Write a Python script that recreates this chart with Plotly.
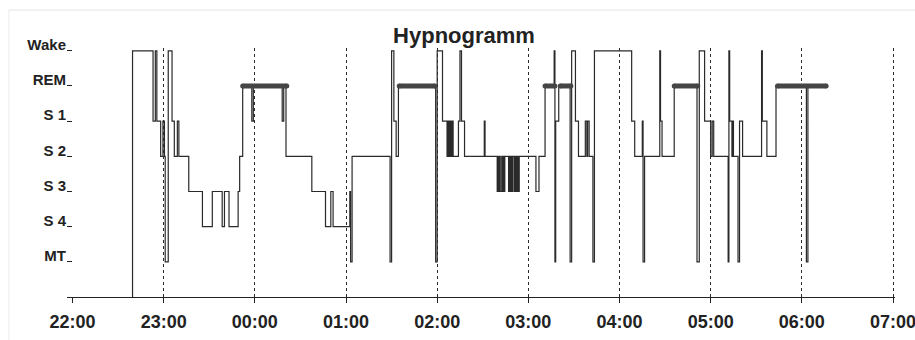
import plotly.graph_objects as go
from datetime import datetime, timedelta

# ---------------- data ----------------
title_text = "Hypnogramm"
stage_names = ["MT", "S 4", "S 3", "S 2", "S 1", "REM", "Wake"]
stage_codes = {"MT": 0, "S4": 1, "S3": 2, "S2": 3, "S1": 4, "REM": 5, "W": 6}
hour_labels = ["22:00", "23:00", "00:00", "01:00", "02:00", "03:00",
               "04:00", "05:00", "06:00", "07:00"]
grid_hours = hour_labels[1:]
lights_off = "22:39:30"

change_times = [
    "22:39:30", "22:53:00", "22:54:30", "22:55:30", "22:58:00", "22:59:30",
    "23:00:30", "23:01:00", "23:03:00", "23:05:30", "23:07:00", "23:09:00",
    "23:10:00", "23:16:30", "23:25:30", "23:32:00", "23:38:30", "23:40:00",
    "23:43:00", "23:49:00", "23:50:00", "23:52:00", "23:58:00", "23:59:00",
    "00:18:00", "00:19:00", "00:20:30", "00:37:30", "00:46:30", "00:50:00",
    "00:51:30", "01:02:30", "01:03:00", "01:04:00", "01:29:00", "01:30:00",
    "01:31:30", "01:33:00", "01:34:30", "01:59:00", "02:00:00", "02:03:30",
    "02:06:30", "02:07:00", "02:07:30", "02:08:00", "02:08:30", "02:09:00",
    "02:09:30", "02:10:00", "02:10:30", "02:14:00", "02:15:00", "02:16:00",
    "02:18:00", "02:31:00", "02:31:30", "02:39:30", "02:40:00", "02:40:30",
    "02:41:00", "02:41:30", "02:42:30", "02:43:00", "02:43:30", "02:44:00",
    "02:44:30", "02:47:00", "02:47:30", "02:48:00", "02:48:30", "02:49:00",
    "02:49:30", "02:50:30", "02:51:00", "02:51:30", "02:52:00", "02:52:30",
    "02:53:00", "02:53:30", "02:54:00", "03:05:00", "03:07:00", "03:11:00",
    "03:17:00", "03:17:30", "03:18:00", "03:20:00", "03:27:30", "03:28:30",
    "03:31:00", "03:33:00", "03:37:30", "03:38:30", "03:39:00", "03:40:00",
    "03:42:30", "03:43:30", "04:08:00", "04:10:00", "04:15:00", "04:15:30",
    "04:16:30", "04:26:30", "04:27:00", "04:28:00", "04:36:00", "04:51:00",
    "04:52:30", "04:56:00", "05:00:00", "05:01:00", "05:02:00", "05:11:30",
    "05:12:00", "05:12:30", "05:14:00", "05:14:30", "05:15:00", "05:18:00",
    "05:19:00", "05:21:00", "05:33:30", "05:34:00", "05:37:00", "05:43:00",
    "06:03:00", "06:04:00", "06:17:00",
]
change_stages = [
    "W", "S1", "W", "S1", "S2", "S1",
    "S2", "MT", "W", "S1", "S2", "S1",
    "S2", "S3", "S4", "S3", "S4", "S3",
    "S4", "S3", "S2", "REM", "S1", "REM",
    "S1", "REM", "S2", "S3", "S4", "S3",
    "S4", "S3", "MT", "S2", "MT", "W",
    "S1", "S2", "REM", "MT", "W", "S1",
    "S2", "S1", "S2", "S1", "S2", "S1",
    "S2", "S1", "S2", "S1", "W", "S1",
    "S2", "S1", "S2", "S3", "S2", "S3",
    "S2", "S3", "S2", "S3", "S2", "S3",
    "S2", "S3", "S2", "S3", "S2", "S3",
    "S2", "S3", "S2", "S3", "S2", "S3",
    "S2", "S3", "S2", "S3", "S2", "REM",
    "W", "MT", "S1", "REM", "MT", "W",
    "S1", "S2", "S1", "S2", "S1", "S2",
    "MT", "W", "S1", "S2", "S1", "MT",
    "S2", "W", "S1", "S2", "REM", "MT",
    "W", "S1", "S2", "S1", "S2", "MT",
    "W", "S1", "S2", "S1", "S2", "MT",
    "S1", "S2", "W", "S1", "S2", "REM",
    "MT", "REM", "REM",
]
rem_bar_start = ["23:52:00", "01:35:00", "03:11:00", "03:21:00", "04:36:00", "05:44:00"]
rem_bar_end = ["00:21:00", "01:58:30", "03:17:30", "03:28:00", "04:51:30", "06:16:00"]

axis_start = "21:56:22"
axis_end = "07:01:19"


# ---------------- helpers ----------------
def to_dt(clock):
    parts = [int(p) for p in clock.split(":")]
    while len(parts) < 3:
        parts.append(0)
    h, m, s = parts
    day = datetime(2000, 1, 1) if h >= 12 else datetime(2000, 1, 2)
    return day + timedelta(hours=h, minutes=m, seconds=s)


step_x = [to_dt(lights_off)] + [to_dt(t) for t in change_times]
step_y = [-1] + [stage_codes[s] for s in change_stages]

rem_x, rem_y = [], []
for a, b in zip(rem_bar_start, rem_bar_end):
    rem_x += [to_dt(a), to_dt(b), None]
    rem_y += [stage_codes["REM"], stage_codes["REM"], None]

FONT = "Arial, Liberation Sans, sans-serif"
INK = "#222222"
x_range = [to_dt(axis_start), to_dt(axis_end)]

fig = go.Figure()
# invisible helper trace so the grid axis is drawn
fig.add_trace(go.Scatter(x=x_range, y=[None, None],
                         xaxis="x2", mode="lines", showlegend=False, hoverinfo="skip"))
fig.add_trace(go.Scatter(x=step_x, y=step_y, mode="lines",
                         line=dict(shape="hv", color="#2a2a2a", width=1.2),
                         showlegend=False))
fig.add_trace(go.Scatter(x=rem_x, y=rem_y, mode="lines+markers",
                         line=dict(color="#454545", width=5),
                         marker=dict(size=5, color="#454545"),
                         showlegend=False))

fig.update_layout(
    width=915, height=340,
    margin=dict(l=67, r=20, t=48, b=43, autoexpand=False),
    paper_bgcolor="white", plot_bgcolor="white",
    title=dict(text=title_text, x=464 / 915, xanchor="center", xref="container",
               y=1 - 35 / 340, yanchor="middle", yref="container",
               font=dict(family=FONT, size=22, color=INK, weight="bold")),
    xaxis=dict(type="date", range=x_range, automargin=False,
               tickvals=[to_dt(h) for h in hour_labels], ticktext=hour_labels,
               ticks="outside", ticklen=5, tickcolor=INK, tickwidth=1,
               showline=True, linecolor=INK, linewidth=1,
               showgrid=False, zeroline=False,
               tickfont=dict(family=FONT, size=18, color=INK, weight="bold"),
               ticklabelstandoff=3, ticklabeloverflow="allow"),
    xaxis2=dict(type="date", overlaying="x", matches="x", automargin=False,
                range=x_range,
                tickvals=[to_dt(h) for h in grid_hours],
                showticklabels=False, ticks="", showline=False,
                showgrid=True, gridcolor="#2a2a2a", gridwidth=1, griddash="3px,3px",
                zeroline=False),
    yaxis=dict(range=[-1, 6.08], tickvals=list(range(7)), ticktext=stage_names,
               automargin=False,
               ticks="inside", ticklen=5, tickcolor=INK, tickwidth=1,
               showline=False, showgrid=False, zeroline=False,
               tickfont=dict(family=FONT, size=15, color=INK, weight="bold"),
               ticklabelshift=-6),
    shapes=[
        dict(type="line", xref="paper", yref="paper", x0=-0.0702, x1=1.04,
             y0=1.1526, y1=1.1526, line=dict(color="#e4e4e4", width=1)),
        dict(type="line", xref="paper", yref="paper", x0=-0.0702, x1=-0.0702,
             y0=1.1526, y1=-0.2, line=dict(color="#ececec", width=1)),
    ],
)

fig.write_html("out.html")
